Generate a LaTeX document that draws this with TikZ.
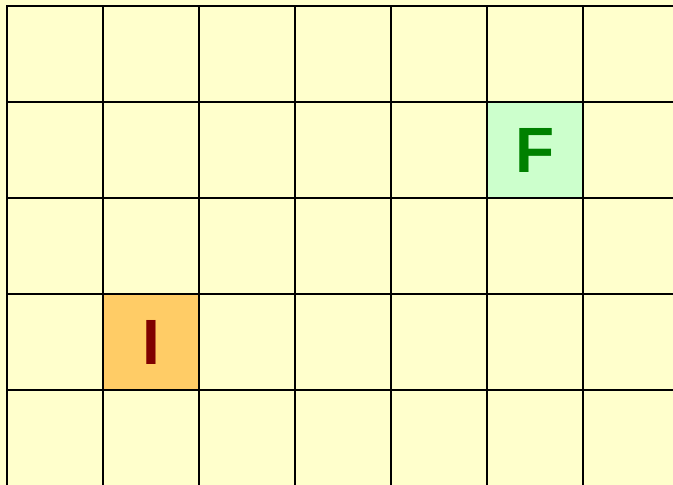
\documentclass[tikz,border=0pt]{standalone}
\usepackage{fontspec}
\setmainfont{Liberation Sans}
\usepackage{tikz}

\definecolor{cellyellow}{HTML}{FFFFCC}
\definecolor{goalfill}{HTML}{CCFFCC}
\definecolor{startfill}{HTML}{FFCC66}
\definecolor{goaltext}{HTML}{008000}
\definecolor{starttext}{HTML}{800000}

\begin{document}
\begin{tikzpicture}[x=1pt, y=1pt,
    cell/.style={rectangle, draw, line width=2pt, fill=cellyellow, minimum size=96pt, inner sep=0pt, outer sep=0pt},
    mark label/.style={font=\fontsize{64}{64}\selectfont\bfseries}]

    \useasboundingbox (0,0) rectangle (673,-485);
    \clip (0,0) rectangle (673,-485);
    \fill [cellyellow] (0,0) rectangle (673,-485);

    % grid of cells
    \foreach \i in {0,...,6} {
        \foreach \j in {0,...,4} {
            \node [cell] (c-\i-\j) at ({55+96*\i},{-54-96*\j}) {};
        }
    }

    \node [cell, fill=goalfill, text=goaltext, mark label] (goal) at (c-5-1) {F};
    \node [cell, fill=startfill, text=starttext, mark label] (start) at (c-1-3) {I};
\end{tikzpicture}
\end{document}
